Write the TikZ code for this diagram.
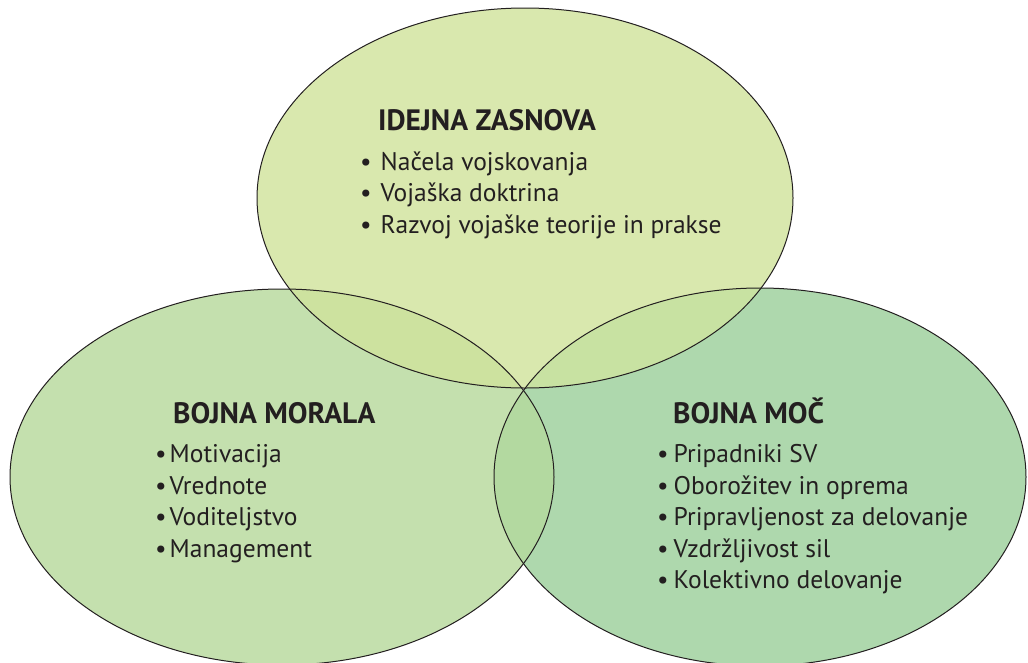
\documentclass[tikz,border=0pt]{standalone}
\usepackage{fontspec}
\setmainfont{PT Sans}

\definecolor{zasnovafill}{HTML}{D9E8AE}
\definecolor{moralafill}{HTML}{C4E0AE}
\definecolor{mocfill}{HTML}{AED8AD}
\definecolor{zmfill}{HTML}{CDE29F}
\definecolor{zcfill}{HTML}{C8E2A2}
\definecolor{mcfill}{HTML}{B3D9A0}
\definecolor{allfill}{HTML}{C4DE9C}
\definecolor{ink}{HTML}{231F20}

\newcommand{\zasnovaEll}{(525,198) ellipse [x radius=268pt, y radius=190pt]}
\newcommand{\moralaEll}{(282,477) ellipse [x radius=272pt, y radius=188pt]}
\newcommand{\mocEll}{(760,477) ellipse [x radius=266pt, y radius=189pt]}

\begin{document}
\begin{tikzpicture}[x=1pt,y=-1pt,
    heading/.style ={anchor=base west, inner sep=0pt, text=ink, font=\bfseries\fontsize{29.5}{29.5}\selectfont},
    item/.style ={anchor=base west, inner sep=0pt, text=ink, font=\fontsize{25.5}{25.5}\selectfont}]
   \useasboundingbox (0,0) rectangle (1028,662);
   % circles
   \fill[moralafill] \moralaEll;
   \fill[mocfill] \mocEll;
   \fill[zasnovafill] \zasnovaEll;
   \begin{scope}
     \clip \moralaEll;
     \fill[zmfill] \zasnovaEll;
     \fill[mcfill] \mocEll;
     \clip \zasnovaEll;
     \fill[allfill] \mocEll;
   \end{scope}
   \begin{scope}
     \clip \mocEll;
     \fill[zcfill] \zasnovaEll;
   \end{scope}
   \draw[ink, line width=1pt] \moralaEll;
   \draw[ink, line width=1pt] \mocEll;
   \draw[ink, line width=1pt] \zasnovaEll;
   % texts
   \node[heading] (zasnova) at (378,130) {IDEJNA ZASNOVA};
   \foreach \txt [count=\i] in {Načela vojskovanja, Vojaška doktrina, Razvoj vojaške teorije in prakse}
     \node[item] (zasnova\i) at (360,{138.5+31.5*\i}) {\textbullet\hspace{9pt}\txt};
   \node[heading] (morala) at (173,423) {BOJNA MORALA};
   \foreach \txt [count=\i] in {Motivacija, Vrednote, Voditeljstvo, Management}
     \node[item] (morala\i) at (155,{431+31.5*\i}) {\textbullet\hspace{3pt}\txt};
   \node[heading] (moc) at (673,423) {BOJNA MOČ};
   \foreach \txt [count=\i] in {Pripadniki SV, Oborožitev in oprema, Pripravljenost za delovanje, Vzdržljivost sil, Kolektivno delovanje}
     \node[item] (moc\i) at (657,{431+31.5*\i}) {\textbullet\hspace{5pt}\txt};
 \end{tikzpicture}
\end{document}
